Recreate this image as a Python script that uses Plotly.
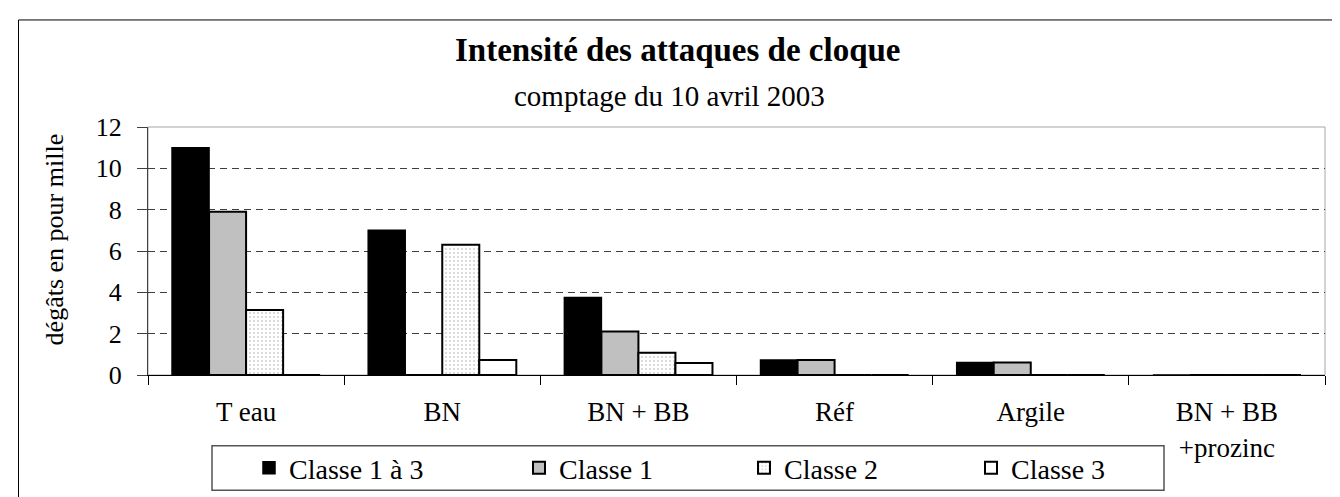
import plotly.graph_objects as go

categories = ["T eau", "BN", "BN + BB", "Réf", "Argile", "BN + BB<br>+prozinc"]
series_names = ["Classe 1 à 3", "Classe 1", "Classe 2", "Classe 3"]
classe_1a3 = [11.0, 7.0, 3.75, 0.72, 0.6, 0]
classe_1 = [7.9, 0, 2.1, 0.72, 0.6, 0]
classe_2 = [3.15, 6.3, 1.08, 0, 0, 0]
classe_3 = [0, 0.72, 0.58, 0, 0, 0]
y_ticks = [0, 2, 4, 6, 8, 10, 12]

W, H = 1340, 497
L, R, T, B = 140, 23, 119, 122
PW, PH = W - L - R, H - T - B

def px(x):
    return (x - L) / PW

def py(y):
    return (H - B - y) / PH

FONT = "Liberation Serif"

styles = [
    dict(color="black", line=dict(color="black", width=1.5)),
    dict(color="#c0c0c0", line=dict(color="black", width=2)),
    dict(color="white", line=dict(color="black", width=2),
         pattern=dict(shape=".", fgcolor="#a0a0a0", bgcolor="white", size=4, solidity=0.2)),
    dict(color="white", line=dict(color="black", width=2)),
]
values = [classe_1a3, classe_1, classe_2, classe_3]
legend_ids = ["legend", "legend2", "legend3", "legend4"]

fig = go.Figure()
for name, vals, st, lg in zip(series_names, values, styles, legend_ids):
    fig.add_trace(go.Bar(x=categories, y=vals, name=name, marker=st, legend=lg))

text_starts = [283, 553, 778, 1005]
legend_cfg = {}
for lg, ts in zip(legend_ids, text_starts):
    legend_cfg[lg] = dict(x=px(ts - 42), y=py(471), xanchor="left", yanchor="middle",
                          orientation="h", bgcolor="rgba(0,0,0,0)", borderwidth=0,
                          font=dict(family=FONT, size=28, color="black"))

fig.update_layout(
    width=W, height=H,
    margin=dict(l=L, r=R, t=T, b=B),
    paper_bgcolor="white", plot_bgcolor="white",
    barmode="group", bargap=0.245, bargroupgap=0,
    showlegend=True,
    font=dict(family=FONT, size=26, color="black"),
    **legend_cfg,
)

fig.update_xaxes(
    type="category", showline=True, linecolor="black", linewidth=1,
    ticks="outside", tickson="boundaries", ticklen=9, tickcolor="black",
    tickfont=dict(family=FONT, size=27, color="black"),
    ticklabelstandoff=13, showgrid=False, zeroline=False,
)
fig.update_yaxes(
    range=[0, 12], tickvals=y_ticks, showline=True, linecolor="#404040", linewidth=1,
    ticks="outside", ticklen=10, tickcolor="#404040",
    tickfont=dict(family=FONT, size=26, color="black"),
    ticklabelstandoff=10,
    showgrid=True, gridcolor="#404040", gridwidth=1, griddash="7px,5px",
    zeroline=False,
)

shapes = [
    # plot area border
    dict(type="rect", xref="paper", yref="paper", x0=0, x1=1, y0=0, y1=1,
         line=dict(color="#a6a6a6", width=1), layer="below"),
    # outer chart border
    dict(type="rect", xref="paper", yref="paper", x0=px(10.5), x1=px(1400), y0=py(8.5), y1=py(560),
         line=dict(color="black", width=1), layer="below"),
    # legend box
    dict(type="rect", xref="paper", yref="paper", x0=px(204), x1=px(1156), y0=py(448), y1=py(494),
         line=dict(color="#555555", width=1.5), fillcolor="white", layer="below"),
]
fig.update_layout(shapes=shapes)

fig.add_annotation(text="<b>Intensité des attaques de cloque</b>", xref="paper", yref="paper",
                   x=px(670), y=py(40), xanchor="center", yanchor="middle", showarrow=False,
                   font=dict(family=FONT, size=33, color="black"))
fig.add_annotation(text="comptage du 10 avril 2003", xref="paper", yref="paper",
                   x=px(661), y=py(87), xanchor="center", yanchor="middle", showarrow=False,
                   font=dict(family=FONT, size=29, color="black"))
fig.add_annotation(text="dégâts en pour mille", xref="paper", yref="paper",
                   x=px(46), y=py(235), xanchor="center", yanchor="middle", showarrow=False,
                   textangle=-90, font=dict(family=FONT, size=26, color="black"))

fig.write_html("out.html")
